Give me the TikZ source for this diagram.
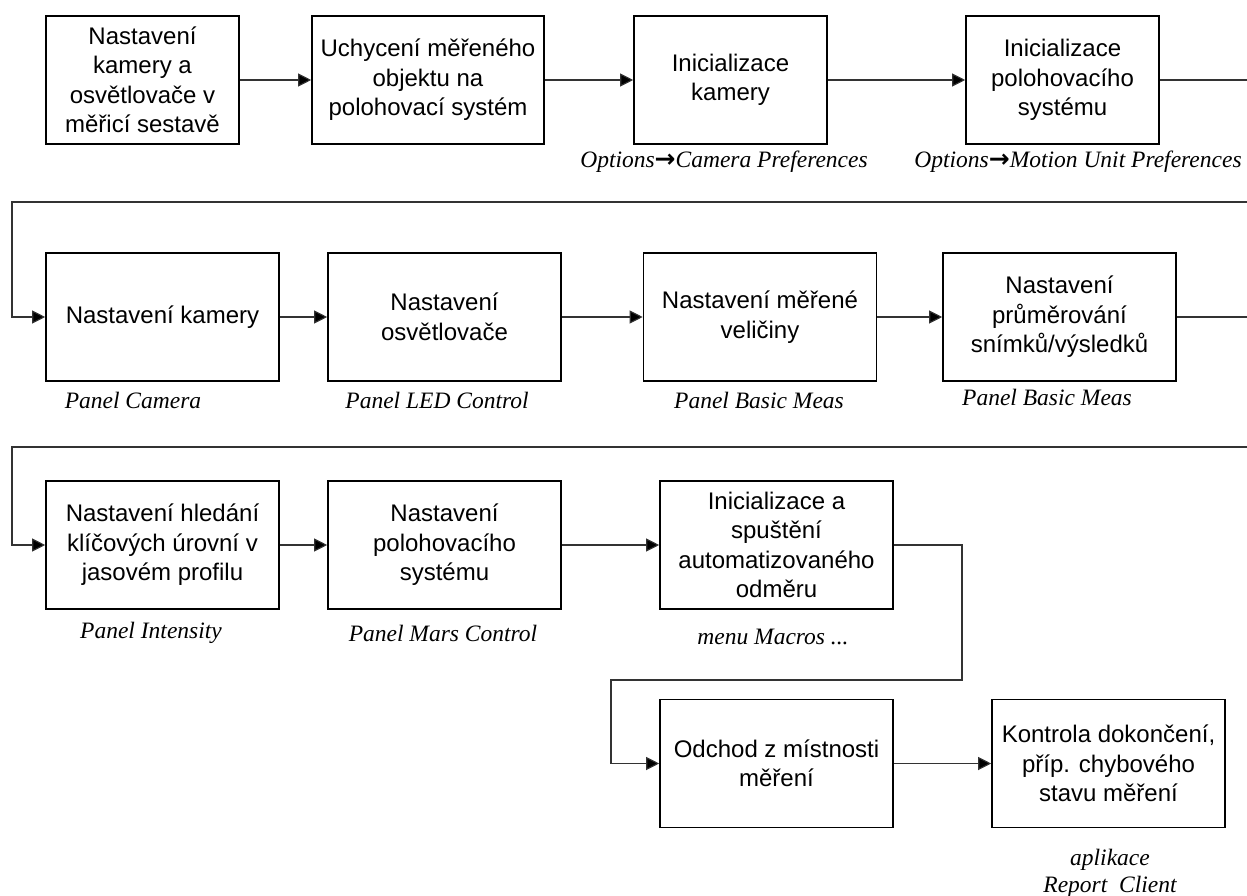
\documentclass[tikz,border=0pt]{standalone}
\usepackage{fontspec}
\setmainfont{Liberation Sans}
\newfontfamily\lblfont{Liberation Serif}
\newfontfamily\symfont{DejaVu Sans}
\usetikzlibrary{arrows.meta}
\newcommand{\myarr}{{\symfont\bfseries\fontsize{25}{25}\selectfont →}}
\tikzset{
  box/.style={draw=black, line width=1.6pt, minimum width=193pt, minimum height=128pt,
    inner sep=0pt, align=center, font=\fontsize{24}{29.5}\selectfont},
  boxw/.style={box, minimum width=233pt},
  lbl/.style={inner sep=0pt, align=center, font=\lblfont\itshape\fontsize{23.5}{27}\selectfont},
  conn/.style={draw=black!80, line width=1.1pt},
  arr/.style={conn, -{Triangle[length=13pt,width=13pt,fill=black]}}
}
\begin{document}
\begin{tikzpicture}[x=1pt,y=-1pt]
\useasboundingbox (0,0) rectangle (1247,896);
% row 1
\node[box]  (b1) at (142.5,80) {Nastavení\\kamery a\\osvětlovače v\\měřicí sestavě};
\node[boxw, minimum width=232pt] (b2) at (428,80) {Uchycení měřeného\\objektu na\\polohovací systém};
\node[box]  (b3) at (730.5,80) {Inicializace\\kamery};
\node[box]  (b4) at (1062.5,80) {Inicializace\\polohovacího\\systému};
% row 2
\node[boxw] (b5) at (162.5,317) {Nastavení kamery};
\node[boxw] (b6) at (444.5,317) {Nastavení\\osvětlovače};
\node[boxw] (b7) at (760,317) {Nastavení měřené\\veličiny};
\node[boxw] (b8) at (1059.5,317) {Nastavení\\průměrování\\snímků/výsledků};
% row 3
\node[boxw] (b9) at (162.5,545) {Nastavení hledání\\klíčových úrovní v\\jasovém profilu};
\node[boxw] (b10) at (444.5,545) {Nastavení\\polohovacího\\systému};
\node[boxw] (b11) at (776.5,545) {Inicializace a\\spuštění\\automatizovaného\\odměru};
% row 4
\node[boxw] (b12) at (776.5,763.5) {Odchod z místnosti\\měření};
\node[boxw] (b13) at (1108.5,763.5) {Kontrola dokončení,\\příp. chybového\\stavu měření};
% labels
\node[lbl] (l3) at (724,162) {Options\myarr Camera Preferences};
\node[lbl] (l4) at (1078,162) {Options\myarr Motion Unit Preferences};
\node[lbl] (l5) at (133,400) {Panel Camera};
\node[lbl] (l6) at (437,400) {Panel LED Control};
\node[lbl] (l7) at (759,400) {Panel Basic Meas};
\node[lbl] (l8) at (1047,397) {Panel Basic Meas};
\node[lbl] (l9) at (151,633) {Panel Intensity};
\node[lbl] (l10) at (443,633) {Panel Mars Control};
\node[lbl] (l11) at (773,637) {menu Macros ...};
\node[lbl] (l13) at (1110,873) {aplikace\\Report\ \ Client};
% coordinates
\coordinate (e1) at (1247,80);
\coordinate (e2) at (1247,202);
\coordinate (w2) at (12,202);
\coordinate (e3) at (1247,317);
\coordinate (e4) at (1247,447);
\coordinate (w4) at (12,447);
\coordinate (t1) at (962,545);
\coordinate (t2) at (962,680);
\coordinate (t3) at (611,680);
% connectors
\draw[arr] (b1.east) -- (b2.west);
\draw[arr] (b2.east) -- (b3.west);
\draw[arr] (b3.east) -- (b4.west);
\draw[conn] (b4.east) -- (e1);
\draw[arr] (e2) -- (w2) |- (b5.west);
\draw[arr] (b5.east) -- (b6.west);
\draw[arr] (b6.east) -- (b7.west);
\draw[arr] (b7.east) -- (b8.west);
\draw[conn] (b8.east) -- (e3);
\draw[arr] (e4) -- (w4) |- (b9.west);
\draw[arr] (b9.east) -- (b10.west);
\draw[arr] (b10.east) -- (b11.west);
\draw[arr] (b11.east) -- (t1) -- (t2) -- (t3) |- (b12.west);
\draw[arr] (b12.east) -- (b13.west);
\end{tikzpicture}
\end{document}
